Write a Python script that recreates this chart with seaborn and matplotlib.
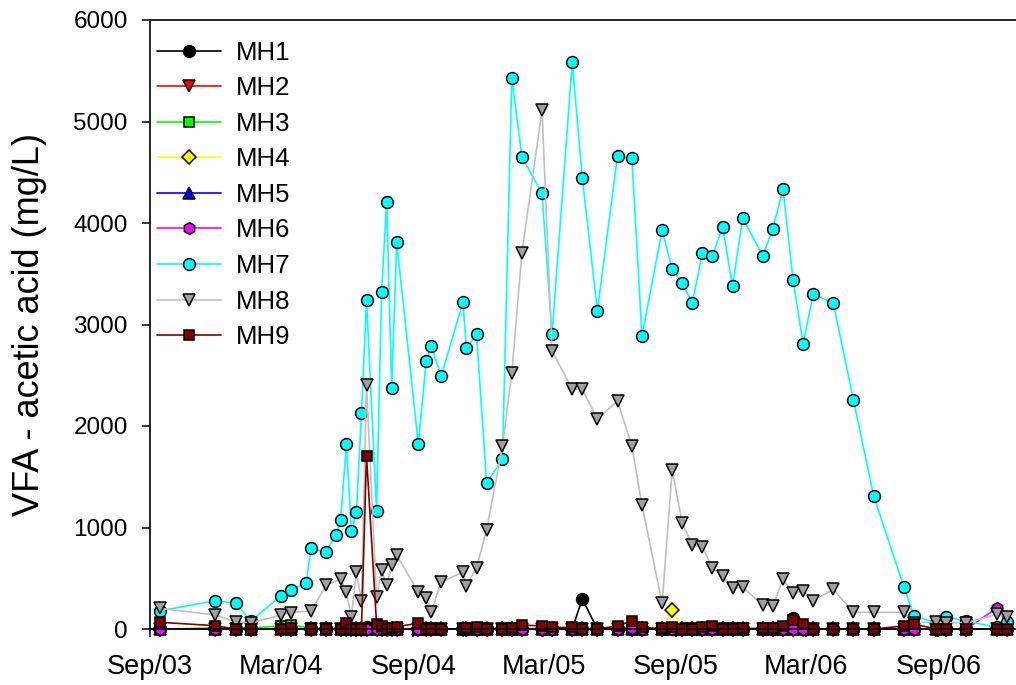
import numpy as np
import pandas as pd
import matplotlib
matplotlib.use("Agg")
import matplotlib.pyplot as plt
import seaborn as sns

sns.set_theme(style="white")
plt.rcParams['font.family'] = ['Liberation Sans', 'DejaVu Sans']
plt.rcParams['text.color'] = 'black'
plt.rcParams['axes.labelcolor'] = 'black'
plt.rcParams['xtick.color'] = 'black'
plt.rcParams['ytick.color'] = 'black'

nan = np.nan

dates = ["2003-09-15", "2003-11-30", "2003-12-29", "2004-01-19", "2004-03-01", "2004-03-15",
         "2004-04-05", "2004-04-12", "2004-05-03", "2004-05-16", "2004-05-23", "2004-05-31",
         "2004-06-07", "2004-06-14", "2004-06-21", "2004-06-28", "2004-07-12", "2004-07-19",
         "2004-07-26", "2004-08-02", "2004-08-09", "2004-09-08", "2004-09-19", "2004-09-26",
         "2004-10-10", "2004-11-09", "2004-11-14", "2004-11-28", "2004-12-12", "2005-01-03",
         "2005-01-16", "2005-01-30", "2005-02-27", "2005-03-13", "2005-04-10", "2005-04-24",
         "2005-05-15", "2005-06-12", "2005-07-02", "2005-07-16", "2005-08-13", "2005-08-27",
         "2005-09-10", "2005-09-24", "2005-10-08", "2005-10-22", "2005-11-05", "2005-11-19",
         "2005-12-03", "2005-12-31", "2006-01-14", "2006-01-28", "2006-02-11", "2006-02-25",
         "2006-03-11", "2006-04-08", "2006-05-06", "2006-06-03", "2006-07-15", "2006-07-29",
         "2006-08-29", "2006-09-12", "2006-10-10", "2006-11-22", "2006-12-06"]

mh7 = [178, 279, 256, 79, 328, 387, 450, 798, 756, 929, 1077, 1823, 966, 1150, 2131,
       3241, 1166, 3323, 4210, 2371, 3810, 1823, 2637, 2785, 2493, 3219, 2768, 2906, 1441,
       1672, 5425, 4653, 4292, 2906, 5586, 4443, 3136, 4663, 4637, 2887, 3931, 3544, 3406,
       3212, 3708, 3675, 3964, 3376, 4054, 3675, 3944, 4335, 3441, 2808, 3300, 3209, 2256,
       1314, 417, 128, 60, 115, 79, 15, 72]

mh8 = [204, 138, 72, 62, 135, 161, nan, 180, 433, nan, 490, 362, 121, 559, 279,
       2404, 318, 581, 433, 631, 729, 362, 302, 171, 466, 559, 427, 604, 975,
       1803, 2519, 3701, 5113, 2742, 2361, 2361, 2069, 2246, 1803, 1222, 253, 1567, 1041,
       828, 805, 598, 522, 401, 411, 236, 230, 490, 352, 374, 279, 391, 164,
       164, 164, 60, 72, 62, 62, 145, 121]

mh9 = [66, 33, 0, 0, 3, 7, nan, 0, 0, nan, 0, 56, 0, 0, 0,
       1708, 49, 30, 0, 10, 23, 56, 0, 0, 0, 0, 5, 15, 0,
       0, 5, 39, 30, 15, 15, 0, 0, 30, 79, 15, 5, 20, 0,
       0, 20, 30, 0, 0, 5, 5, 5, 30, 89, 49, 0, 0, 0,
       0, 30, 49, 0, 0, 0, 0, 0]

mh1 = [0, 0, 0, 0, 0, 0, nan, 0, 0, nan, 0, 0, 0, 0, 0,
       20, 0, 0, 0, 0, 0, 0, 0, 0, 0, 0, 0, 0, 0,
       0, 0, 0, 0, 0, 0, 296, 0, 0, 0, 0, 0, 0, 0,
       0, 0, 0, 0, 0, 0, 0, 0, 0, 108, 30, 0, 0, 0,
       0, 0, 0, 0, 0, 0, 0, 0]

mh2 = [0, 0, 0, 0, 0, 0, nan, 0, 0, nan, 0, 0, 0, 0, 0,
       0, 0, 0, 0, 0, 0, 0, 0, 0, 0, 0, 0, 0, 0,
       0, 0, 0, 0, 0, 0, 0, 0, 0, 0, 0, 0, 0, 0,
       0, 0, 0, 0, 0, 0, 0, 0, 0, 0, 0, 0, 0, 0,
       0, 0, 0, 0, 0, 0, 0, 0]

mh3 = [0, 10, 10, 10, 30, 40, nan, 10, 0, nan, 0, 0, 0, 0, 0,
       0, 0, 0, 0, 0, 0, 0, 0, 0, 0, 0, 0, 0, 0,
       0, 0, 0, 0, 0, 0, 0, 0, 0, 0, 0, 0, 0, 0,
       0, 0, 0, 0, 0, 0, 0, 0, 0, 0, 0, 0, 0, 0,
       0, 0, 0, 0, 0, 0, 0, 0]

mh4 = [0, 0, 0, 0, 0, 0, nan, 0, 0, nan, 0, 0, 0, 0, 0,
       0, 0, 0, 0, 0, 0, 0, 0, 0, 0, 0, 0, 0, 0,
       0, 0, 0, 0, 0, 0, 0, 0, 0, 0, 0, 0, 187, 0,
       0, 0, 0, 0, 0, 0, 0, 0, 0, 0, 0, 0, 0, 0,
       0, 0, 0, 0, 0, 0, 0, 0]

mh5 = [0, 0, 0, 0, 0, 0, nan, 0, 0, nan, 0, 0, 0, 0, 0,
       0, 0, 0, 0, 0, 0, 0, 0, 0, 0, 0, 0, 0, 0,
       0, 0, 0, 0, 0, 0, 0, 0, 0, 0, 0, 0, 0, 0,
       0, 0, 0, 0, 0, 0, 0, 0, 0, 0, 0, 0, 0, 0,
       0, 0, 0, 0, 0, 0, 0, 0]

mh6 = [0, 0, 0, 0, 0, 0, nan, 0, 0, nan, 0, 0, 0, 0, 0,
       0, 0, 0, 0, 0, 0, 0, 0, 0, 0, 0, 0, 0, 0,
       0, 0, 0, 0, 0, 0, 0, 0, 0, 10, 0, 0, 0, 0,
       0, 0, 0, 0, 0, 0, 0, 0, 0, 0, 0, 0, 0, 0,
       0, 0, 0, 0, 0, 0, 210, 40]

series_names = ["MH1", "MH2", "MH3", "MH4", "MH5", "MH6", "MH7", "MH8", "MH9"]
series_values = [mh1, mh2, mh3, mh4, mh5, mh6, mh7, mh8, mh9]
line_colors = ["#000000", "#ff0000", "#00ff00", "#ffff00", "#0000ff", "#ff00ff",
               "#00ffff", "#c0c0c0", "#800000"]
face_colors = ["#000000", "#ff0000", "#00ff00", "#ffff00", "#0000ff", "#ff00ff",
               "#00ffff", "#a0a0a0", "#800000"]
markers = ["o", "v", "s", "D", "^", "h", "o", "v", "s"]
msizes = [8.5, 8.5, 7.5, 7.5, 8.5, 8.5, 8.5, 8.5, 7.5]

x_ticks = ["2003-09-01", "2004-03-01", "2004-09-01", "2005-03-01", "2005-09-01",
           "2006-03-01", "2006-09-01"]
x_ticklabels = ["Sep/03", "Mar/04", "Sep/04", "Mar/05", "Sep/05", "Mar/06", "Sep/06"]
y_ticks = [0, 1000, 2000, 3000, 4000, 5000, 6000]

W, H = 1016, 685
fig = plt.figure(figsize=(W / 100, H / 100), dpi=100)
ax = fig.add_axes([150 / W, 56 / H, 866 / W, 609 / H])

dt = pd.to_datetime(dates)
for name, vals, lc, fc, mk, ms in zip(series_names, series_values, line_colors,
                                      face_colors, markers, msizes):
    df = pd.DataFrame({"date": dt, "value": vals}).dropna()
    sns.lineplot(data=df, x="date", y="value", ax=ax, color=lc, label=name,
                 marker=mk, markersize=ms, markerfacecolor=fc, markeredgecolor="black",
                 markeredgewidth=1.1, linewidth=1.2, clip_on=False, estimator=None)

ax.set_xlim(pd.Timestamp("2003-09-01"), pd.Timestamp("2006-12-18"))
ax.set_ylim(0, 6000)
ax.set_xticks(pd.to_datetime(x_ticks))
ax.set_xticklabels(x_ticklabels)
ax.set_yticks(y_ticks)
ax.set_xlabel("")
ax.set_ylabel("VFA - acetic acid (mg/L)", fontsize=26, color="black")
ax.yaxis.set_label_coords(-0.119, 0.5)
ax.tick_params(axis="y", labelsize=17.5, direction="out", length=6, width=1.1,
               color="black", labelcolor="black", left=True, pad=10)
ax.tick_params(axis="x", labelsize=19.5, direction="out", length=6, width=1.1,
               color="black", labelcolor="black", bottom=True, pad=12)
for side in ["left", "bottom", "top"]:
    ax.spines[side].set_color("black")
    ax.spines[side].set_linewidth(1.2)
ax.spines["right"].set_visible(False)
ax.grid(False)

leg = ax.legend(loc="upper left", frameon=False, fontsize=18.5, handlelength=2.48,
                labelspacing=0.45, borderaxespad=0.0, borderpad=0.4, handletextpad=0.6,
                bbox_to_anchor=(146.7 / W, 1 - 30.4 / H), bbox_transform=fig.transFigure)
for t in leg.get_texts():
    t.set_color("black")

fig.savefig("out.png", dpi=100)
